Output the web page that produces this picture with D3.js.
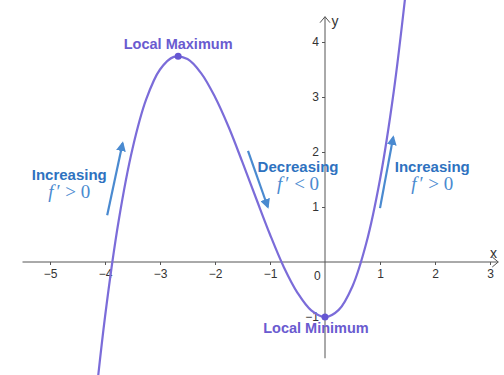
<!DOCTYPE html>
<html>
<head>
<meta charset="utf-8">
<script src="https://cdn.jsdelivr.net/npm/d3@7"></script>
<style>
  body { margin: 0; background: #fff; }
  svg { display: block; font-family: "Liberation Sans", Arial, sans-serif; }
</style>
</head>
<body>
<svg id="chart" width="504" height="375"></svg>
<script>
// curve points
var curveX = [-4.25, -4, -3.75, -3.5, -3.25, -3, -2.75, -2.5, -2.25, -2, -1.75, -1.5, -1.25, -1, -0.75, -0.5, -0.25, 0, 0.25, 0.5, 0.75, 1, 1.25, 1.5];
var curveY = [-3.26, -1, 0.76, 2.06, 2.96, 3.5, 3.73, 3.69, 3.43, 3, 2.45, 1.81, 1.15, 0.5, -0.09, -0.56, -0.88, -1, -0.87, -0.44, 0.34, 1.5, 3.1, 5.19];
var xTicks = [-5, -4, -3, -2, -1, 1, 2, 3];
var yTicks = [-1, 1, 2, 3, 4];
var extremaX = [-2.67, 0];
var extremaY = [3.74, -1];
var extremaLabels = ["Local Maximum", "Local Minimum"];
// slope arrows: [x1, y1, x2, y2] in data units
var arrows = [[-3.96, 0.85, -3.68, 2.16], [-1.4, 2.02, -1.04, 1.0], [1.0, 0.98, 1.24, 2.27]];
var notes = [
  { x: -4.65, y: 1.49, word: "Increasing", sign: ">" },
  { x: -0.49, y: 1.64, word: "Decreasing", sign: "<" },
  { x: 1.95, y: 1.64, word: "Increasing", sign: ">" }
];

var svg = d3.select("#chart");
var x = d3.scaleLinear().domain([0, 1]).range([325, 380]);
var y = d3.scaleLinear().domain([0, 1]).range([262, 207]);

var axisColor = "#555";
var defs = svg.append("defs");
defs.append("clipPath").attr("id", "clip")
  .append("rect").attr("x", 0).attr("y", 0).attr("width", 504).attr("height", 375);
defs.append("marker").attr("id", "blueHead")
  .attr("viewBox", "0 0 10 10").attr("refX", 8).attr("refY", 5)
  .attr("markerWidth", 4.5).attr("markerHeight", 4.5).attr("orient", "auto")
  .append("path").attr("d", "M0,0 L10,5 L0,10 z").attr("fill", "#4a8ad0");

// x axis
var xAxis = svg.append("g")
  .attr("transform", "translate(0," + y(0) + ")")
  .call(d3.axisBottom(x).tickValues(xTicks).tickSize(3).tickFormat(d => d < 0 ? "\u2212" + (-d) : d));
xAxis.select(".domain").attr("d", "M" + x(-5.5) + ",0H" + x(3.15)).attr("stroke", axisColor);
xAxis.selectAll("line").attr("stroke", axisColor);
xAxis.selectAll("text").attr("fill", "#333").attr("font-size", 12).attr("dy", "0.85em");
svg.append("path")
  .attr("d", "M" + (x(3.15) - 6) + "," + (y(0) - 5) + " L" + x(3.15) + "," + y(0) + " L" + (x(3.15) - 6) + "," + (y(0) + 5))
  .attr("fill", "none").attr("stroke", axisColor);

// y axis
var yAxis = svg.append("g")
  .attr("transform", "translate(" + x(0) + ",0)")
  .call(d3.axisLeft(y).tickValues(yTicks).tickSize(3).tickFormat(d => d < 0 ? "\u2212" + (-d) : d));
yAxis.select(".domain").attr("d", "M0," + y(-1.75) + "V" + y(4.46)).attr("stroke", axisColor);
yAxis.selectAll("line").attr("stroke", axisColor);
yAxis.selectAll("text").attr("fill", "#333").attr("font-size", 12);
svg.append("path")
  .attr("d", "M" + (x(0) - 5) + "," + (y(4.46) + 6) + " L" + x(0) + "," + y(4.46) + " L" + (x(0) + 5) + "," + (y(4.46) + 6))
  .attr("fill", "none").attr("stroke", axisColor);

svg.append("text").attr("x", x(-0.14)).attr("y", y(0) + 18).attr("text-anchor", "middle")
  .attr("font-size", 12).attr("fill", "#333").text("0");
svg.append("text").attr("x", x(3.0)).attr("y", y(0) - 4).attr("font-size", 14).attr("fill", "#333").text("x");
svg.append("text").attr("x", x(0.12)).attr("y", y(4.3)).attr("font-size", 14).attr("fill", "#333").text("y");

// curve
var line = d3.line().x(d => x(d[0])).y(d => y(d[1])).curve(d3.curveCatmullRom);
svg.append("path")
  .datum(d3.zip(curveX, curveY))
  .attr("clip-path", "url(#clip)")
  .attr("d", line)
  .attr("fill", "none").attr("stroke", "#7b6cd9").attr("stroke-width", 2.2);

// extrema
svg.selectAll(".ext").data(d3.range(extremaX.length)).enter().append("circle")
  .attr("cx", i => x(extremaX[i])).attr("cy", i => y(extremaY[i])).attr("r", 3.5)
  .attr("fill", "#6657d3");
svg.selectAll(".extLabel").data(d3.range(extremaX.length)).enter().append("text")
  .attr("x", i => x(extremaX[i]) + (i === 0 ? 0 : -9))
  .attr("y", i => y(extremaY[i]) + (i === 0 ? -7 : 16))
  .attr("text-anchor", "middle").attr("font-size", 14.5).attr("font-weight", "bold")
  .attr("fill", "#6a5bd0")
  .text(i => extremaLabels[i]);

// slope arrows
svg.selectAll(".arrow").data(arrows).enter().append("line")
  .attr("x1", d => x(d[0])).attr("y1", d => y(d[1]))
  .attr("x2", d => x(d[2])).attr("y2", d => y(d[3]))
  .attr("stroke", "#4a8ad0").attr("stroke-width", 2.2)
  .attr("marker-end", "url(#blueHead)");

// annotations
var g = svg.selectAll(".note").data(notes).enter().append("g");
g.append("text").attr("x", d => x(d.x)).attr("y", d => y(d.y))
  .attr("text-anchor", "middle").attr("font-size", 15).attr("font-weight", "bold")
  .attr("fill", "#2e72c0").text(d => d.word);
var f = g.append("text").attr("x", d => x(d.x)).attr("y", d => y(d.y) + 18)
  .attr("text-anchor", "middle").attr("font-size", 19)
  .attr("font-family", "'Liberation Serif', 'DejaVu Serif', serif")
  .attr("fill", "#4a8ad0");
f.append("tspan").attr("font-style", "italic").text("f");
f.append("tspan").attr("dx", 3).text("\u2032");
f.append("tspan").text(d => " " + d.sign + " 0");
</script>
</body>
</html>
